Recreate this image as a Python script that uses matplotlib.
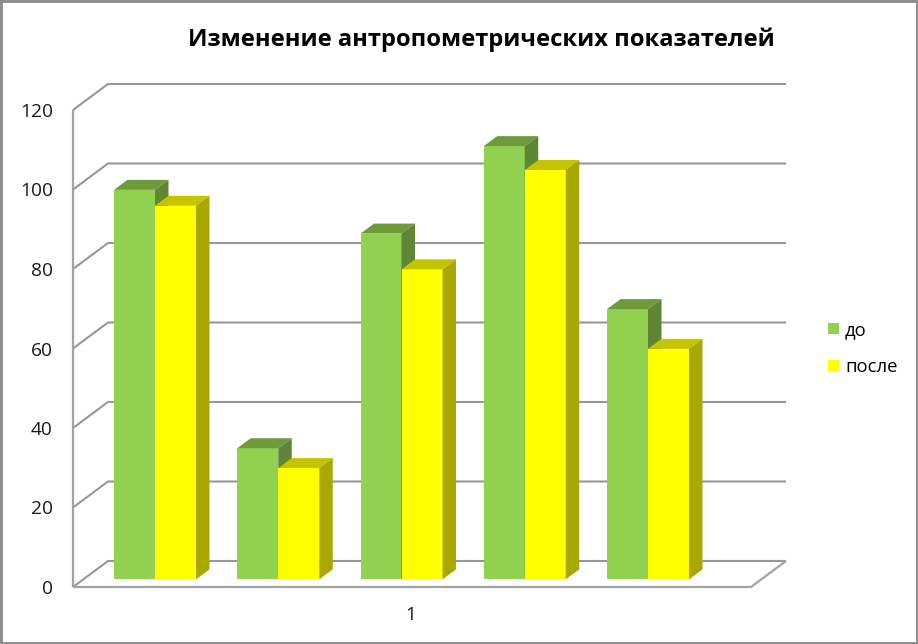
import matplotlib
matplotlib.use("Agg")
import matplotlib.pyplot as plt
from matplotlib.patches import Polygon, Rectangle, Patch

plt.rcParams['font.family'] = ['Open Sans', 'DejaVu Sans']

title = "Изменение антропометрических показателей"
series_names = ["до", "после"]
do_values = [98, 33, 87, 109, 68]
posle_values = [94, 28, 78, 103, 58]
y_ticks = [0, 20, 40, 60, 80, 100, 120]
x_label = "1"

W, H = 918, 644
fig = plt.figure(figsize=(W / 100, H / 100), dpi=100, facecolor="white")
L, R, B, T = 73, 751, 587, 110
ax = fig.add_axes([L / W, 1 - B / H, (R - L) / W, (B - T) / H])
ax.patch.set_alpha(0)
for s in ax.spines.values():
    s.set_visible(False)

group_px = 123.25
px_y = (B - T) / 120.0
x0 = -(155 - L) / group_px
x1 = (R - 155) / group_px
ax.set_xlim(x0, x1)
ax.set_ylim(0, 120)

bar_w = 41 / group_px
floor = 7.6 / px_y          # bars stand in the middle of the floor depth
bar_dx, bar_dy = 13.5 / group_px, 10 / px_y
wall_dx, wall_dy = 35 / group_px, 26 / px_y

grid_c = "#979797"
axis_c = "#A3A3A3"
kw = dict(clip_on=False, solid_capstyle="butt", solid_joinstyle="miter")
for v in y_ticks:
    ax.plot([x0, x0 + wall_dx, x1 + wall_dx], [v, v + wall_dy, v + wall_dy],
            color=grid_c, lw=1.5, zorder=1, **kw)
ax.plot([x0, x0], [0, 120], color=axis_c, lw=1.6, zorder=2, **kw)
ax.plot([x0, x1, x1 + wall_dx], [0, 0, wall_dy], color=axis_c, lw=1.6, zorder=2, **kw)


def draw_series(values, offset, front, top, side):
    for i, v in enumerate(values):
        xl = i + offset
        xr = xl + bar_w
        yt = v + floor
        ax.bar(xl, v, width=bar_w, bottom=floor, align="edge", color=front,
               linewidth=0, zorder=3 + i, clip_on=False)
        ax.add_patch(Polygon([(xl, yt), (xr, yt), (xr + bar_dx, yt + bar_dy), (xl + bar_dx, yt + bar_dy)],
                             closed=True, fc=top, ec="none", zorder=3 + i, clip_on=False))
        ax.add_patch(Polygon([(xr, floor), (xr + bar_dx, floor + bar_dy), (xr + bar_dx, yt + bar_dy), (xr, yt)],
                             closed=True, fc=side, ec="none", zorder=3 + i, clip_on=False))


draw_series(do_values, -bar_w, "#92D050", "#6F9A3C", "#5F8535")
draw_series(posle_values, 0, "#FFFF00", "#C4C400", "#A8A800")

ax.set_yticks(y_ticks)
ax.set_yticklabels([str(v) for v in y_ticks], fontsize=13.8, color="#1a1a1a")
ax.set_xticks([(411 - 155) / group_px])
ax.set_xticklabels([x_label], fontsize=13.5, color="#1a1a1a")
ax.tick_params(axis="y", length=0, pad=14.5)
ax.tick_params(axis="x", length=0, pad=13.5)

fig.text(481 / W, 1 - 40 / H, title, fontsize=17.1, fontweight="bold", ha="center", va="center", color="black")

handles = [Patch(fc="#92D050", ec="none"), Patch(fc="#FFFF00", ec="none")]
fig.legend(handles, series_names, loc="upper left", bbox_to_anchor=(828 / W, 1 - 321 / H),
           frameon=False, fontsize=13.3, handlelength=0.62, handleheight=0.62,
           handletextpad=0.3, labelspacing=1.05, borderpad=0, borderaxespad=0)

fig.add_artist(Rectangle((0, 0), 1, 1, transform=fig.transFigure, fill=False, ec="#8C8C8C", lw=3.5))
fig.savefig("out.png", dpi=100)
